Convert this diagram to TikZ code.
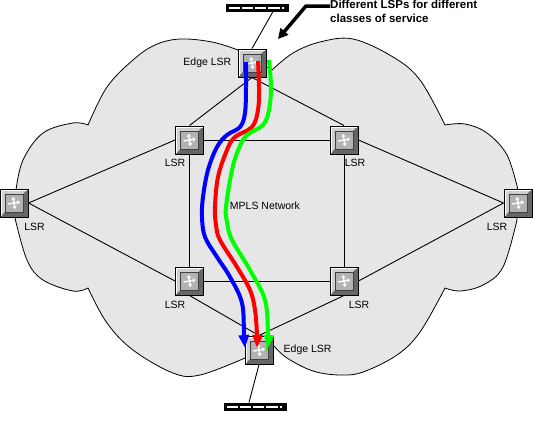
\documentclass[tikz,border=0pt]{standalone}
\usepackage{fontspec}
\setmainfont{Liberation Sans}
\usepackage{xcolor}
\usetikzlibrary{arrows.meta,positioning,calc}
\definecolor{cloudgray}{HTML}{E6E6E6}
\definecolor{keygray}{HTML}{B2B2B2}
\definecolor{keylight}{HTML}{CFCFCF}
\definecolor{keydark}{HTML}{666666}
\tikzset{
  lsrkey/.style={rectangle,draw=black,line width=1pt,minimum size=28pt,inner sep=0pt,fill=keylight,
    path picture={
      \coordinate (sw) at (path picture bounding box.south west);
      \coordinate (ne) at (path picture bounding box.north east);
      \fill[keydark] (sw) -- ($(sw)+(4,-4)$) -- ($(ne)+(-4,4)$) -- (ne) -- (sw-|ne) -- cycle;
      \draw[white,line width=.8pt] ($(sw)+(1,-1)$) -- ($(sw)+(1,-27)$) -- ($(sw)+(27,-27)$);
      \fill[keygray,draw=black!75,line width=.7pt] ($(sw)+(5,-5)$) rectangle ($(ne)+(-5,5)$);
      \draw[white,line width=1.4pt,-{Stealth[length=3pt,width=4.5pt]}] ($(sw)!.5!(ne)+(-6,1)$) -- ($(sw)!.5!(ne)+(6,-1)$);
      \draw[white,line width=1.4pt,{Stealth[length=3pt,width=4.5pt]}-{Stealth[length=3pt,width=4.5pt]}] ($(sw)!.5!(ne)+(-1,-6)$) -- ($(sw)!.5!(ne)+(1,6)$);
    }},
  hubbox/.style={rectangle,draw=black,line width=1pt,minimum width=62pt,minimum height=7pt,inner sep=0pt,fill=black,
    path picture={
      \coordinate (sw) at (path picture bounding box.south west);
      \foreach \i in {3,16,29,42}
        \fill[white] ($(sw)+(\i,-2.5)$) rectangle ($(sw)+(\i+11,-4.5)$);
      \foreach \i in {52,56}
        \fill[white] ($(sw)+(\i,-2)$) rectangle ($(sw)+(\i+2,-4)$);
    }},
  lsrtext/.style={font=\fontsize{10.5pt}{12pt}\selectfont,inner sep=0pt},
  linkline/.style={line width=.9pt,black},
  lsppath/.style={line width=4pt,-{Triangle[width=10pt,length=13pt]}}
}
\begin{document}
\begin{tikzpicture}[x=1pt,y=-1pt,>=Latex]
  \useasboundingbox (0,0) rectangle (533,432);
  % cloud
  \filldraw[fill=cloudgray,draw=black,line width=.8pt]
    plot[smooth,tension=.6] coordinates {(238,50) (212,42) (180,39) (155,45) (133,60) (107,87) (88,125)}
    -- plot[smooth,tension=.6] coordinates {(88,125) (73,123) (43,133) (23,160) (16,190)}
    -- plot[smooth,tension=.6] coordinates {(15,218) (27,260) (43,280) (73,291) (88,288)}
    -- plot[smooth,tension=.6] coordinates {(88,288) (107,323) (133,350) (173,373) (200,375) (245,358)}
    -- (274,346)
    -- plot[smooth,tension=.6] coordinates {(274,346) (287,358) (313,371) (340,375) (363,372) (397,355) (420,332) (445,288)}
    -- plot[smooth,tension=.6] coordinates {(445,288) (460,291) (483,285) (503,267) (517,220)}
    -- plot[smooth,tension=.6] coordinates {(518,190) (507,155) (487,133) (465,124) (445,125)}
    -- plot[smooth,tension=.6] coordinates {(445,125) (420,80) (393,57) (353,39) (320,42) (293,53) (272,70)}
    -- cycle;

  % routers
  \node[lsrkey] (edgetop) at (252,63) {};
  \node[lsrkey] (edgebot) at (259,350) {};
  \node[lsrkey] (lsrtl) at (189.5,140) {};
  \node[lsrkey,right=125.5pt of lsrtl] (lsrtr) {};
  \node[lsrkey,below=112pt of lsrtl] (lsrbl) {};
  \node[lsrkey,right=125.5pt of lsrbl] (lsrbr) {};
  \node[lsrkey] (lsrw) at (14,203) {};
  \node[lsrkey] (lsre) at (518,203) {};
  \node[hubbox] (hubtop) at (257,7.5) {};
  \node[hubbox] (hubbot) at (255,406.5) {};

  % links
  \draw[linkline] (edgetop.south) -- (lsrtl.north);
  \draw[linkline] (edgetop.south) -- (lsrtr.north);
  \draw[linkline] (lsrtl.east) -- (lsrtr.west);
  \draw[linkline] (lsrbl.east) -- (lsrbr.west);
  \draw[linkline] (lsrtl.south) -- (lsrbl.north);
  \draw[linkline] (lsrtr.south) -- (lsrbr.north);
  \draw[linkline] (lsrw.east) -- (lsrtl.west);
  \draw[linkline] (lsrw.east) -- (lsrbl.west);
  \draw[linkline] (lsre.west) -- (lsrtr.east);
  \draw[linkline] (lsre.west) -- (lsrbr.east);
  \draw[linkline] (lsrbl.south) -- (edgebot.north);
  \draw[linkline] (lsrbr.south) -- (edgebot.north);
  \draw[linkline] ([xshift=16pt]hubtop.south) -- (edgetop.north);
  \draw[linkline] ([xshift=-6pt]hubbot.north) -- (edgebot.south);

  % labels
  \node[lsrtext,left=6pt of edgetop] (lbledgetop) {Edge LSR};
  \node[lsrtext,right=10pt of edgebot] (lbledgebot) {Edge LSR};
  \node[lsrtext] (lbltl) at (175,163) {LSR};
  \node[lsrtext] (lbltr) at (355,163) {LSR};
  \node[lsrtext] (lblbl) at (175,305) {LSR};
  \node[lsrtext] (lblbr) at (359,305) {LSR};
  \node[lsrtext] (lblw) at (34.5,227) {LSR};
  \node[lsrtext] (lble) at (497,227) {LSR};
  \node[lsrtext] (lblnet) at (265,206) {MPLS Network};
  \node[lsrtext,font=\fontsize{11.5pt}{13.5pt}\selectfont\bfseries,anchor=north west,align=left] (lbllsps) at (330,0) {Different LSPs for different\\classes of service};

  % callout arrow
  \coordinate (bendtop) at (306,6);
  \coordinate (tiparrow) at (278,39);
  \draw[line width=3.5pt,-{Triangle[width=10pt,length=10pt]}] (lbllsps.west|-bendtop) -- (bendtop) -- (tiparrow);

  % paths through the network
  \draw[lsppath,blue] plot[smooth,tension=.6] coordinates {([xshift=-6pt,yshift=1pt]edgetop.center) (246,87) (245,113) (240,127) (227,135) (217,147) (208,170) (203,197) (202,217) (205,237) (217,257) (230,277) (242,303) (244,335) ([xshift=-14pt,yshift=2pt]edgebot.center)};
  \draw[lsppath,red] plot[smooth,tension=.6] coordinates {([xshift=6pt,yshift=2pt]edgetop.center) (259,87) (258,110) (252,127) (235,137) (227,150) (218,177) (215,207) (216,225) (220,240) (237,267) (250,290) (255,310) (257,335) ([xshift=-2pt,yshift=2pt]edgebot.center)};
  \draw[lsppath,green] plot[smooth,tension=.6] coordinates {([xshift=17pt,yshift=3pt]edgetop.center) (271,87) (269,110) (263,125) (247,135) (239,148) (232,170) (226,207) (227,222) (232,240) (250,270) (265,300) (268,333) ([xshift=9pt,yshift=2pt]edgebot.center)};
\end{tikzpicture}
\end{document}
